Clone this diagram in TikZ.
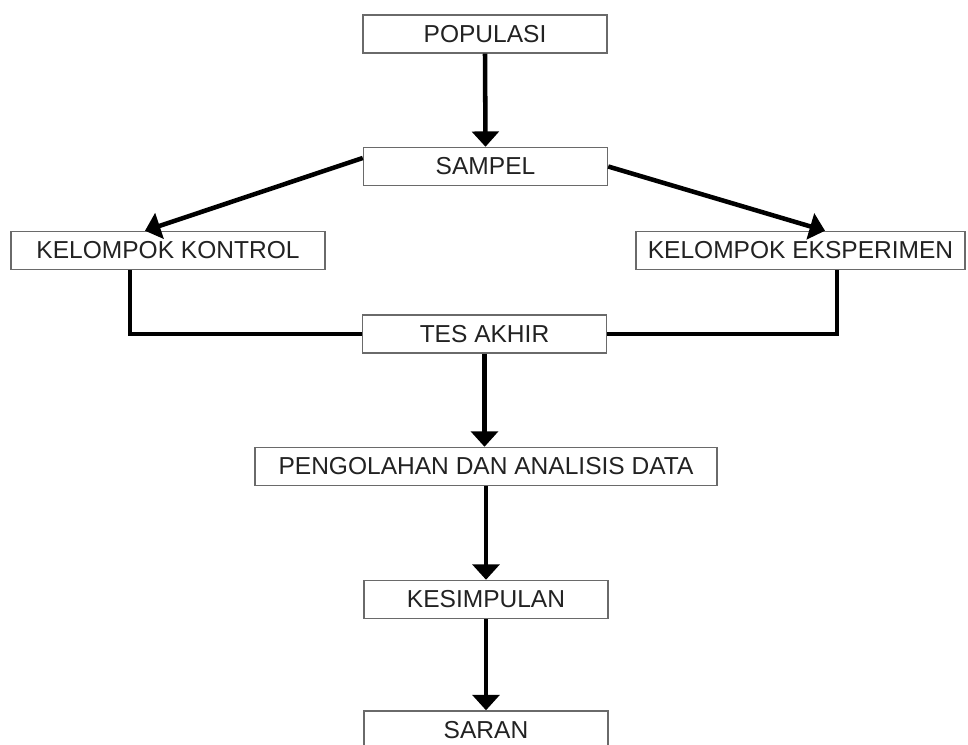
\documentclass[tikz,border=0pt]{standalone}
\usepackage{fontspec}
\setmainfont{Liberation Sans}
\usetikzlibrary{arrows.meta}
\definecolor{boxline}{HTML}{6A6A6A}
\definecolor{txt}{HTML}{222222}
\begin{document}
\begin{tikzpicture}[x=0.75pt,y=-0.75pt,
  stepbox/.style={draw=boxline, line width=1.1pt, fill=white, text=txt,
    minimum width=183pt, minimum height=28.5pt, inner sep=0pt,
    font=\fontsize{18.4pt}{22pt}\selectfont},
  conn/.style={line width=3.4pt, black},
  arr/.style={conn, -{Triangle[width=20pt,length=11.5pt]}}]
\useasboundingbox (0,0) rectangle (968,744);
\fill[white] (0,0) rectangle (968,744);
\clip (0,0) rectangle (968,744);
\node[stepbox] (pop) at (485,34) {POPULASI};
\node[stepbox] (sam) at (485.5,166.5) {SAMPEL};
\node[stepbox, minimum width=235.5pt] (kon) at (168,250.5) {KELOMPOK KONTROL};
\node[stepbox, minimum width=246.75pt] (eks) at (800.5,250.5) {KELOMPOK EKSPERIMEN};
\node[stepbox] (tes) at (484.5,334) {TES AKHIR};
\node[stepbox, minimum width=346.5pt] (peng) at (486,466.5) {PENGOLAHAN DAN ANALISIS DATA};
\node[stepbox] (kes) at (486,599.5) {KESIMPULAN};
\node[stepbox] (sar) at (486,730) {SARAN};
\draw[arr] (pop.south) -- (sam.north);
\draw[arr] ([yshift=6.4pt]sam.west) -- ([xshift=-17.25pt]kon.north);
\draw[arr] (sam.east) -- ([xshift=18.4pt]eks.north);
\draw[conn] ([xshift=-28.5pt]kon.south) |- (tes.west);
\draw[conn] ([xshift=27.4pt]eks.south) |- (tes.east);
\draw[arr] (tes.south) -- (tes.south |- peng.north);
\draw[arr] (peng.south) -- (peng.south |- kes.north);
\draw[arr] (kes.south) -- (sar.north);
\end{tikzpicture}
\end{document}
